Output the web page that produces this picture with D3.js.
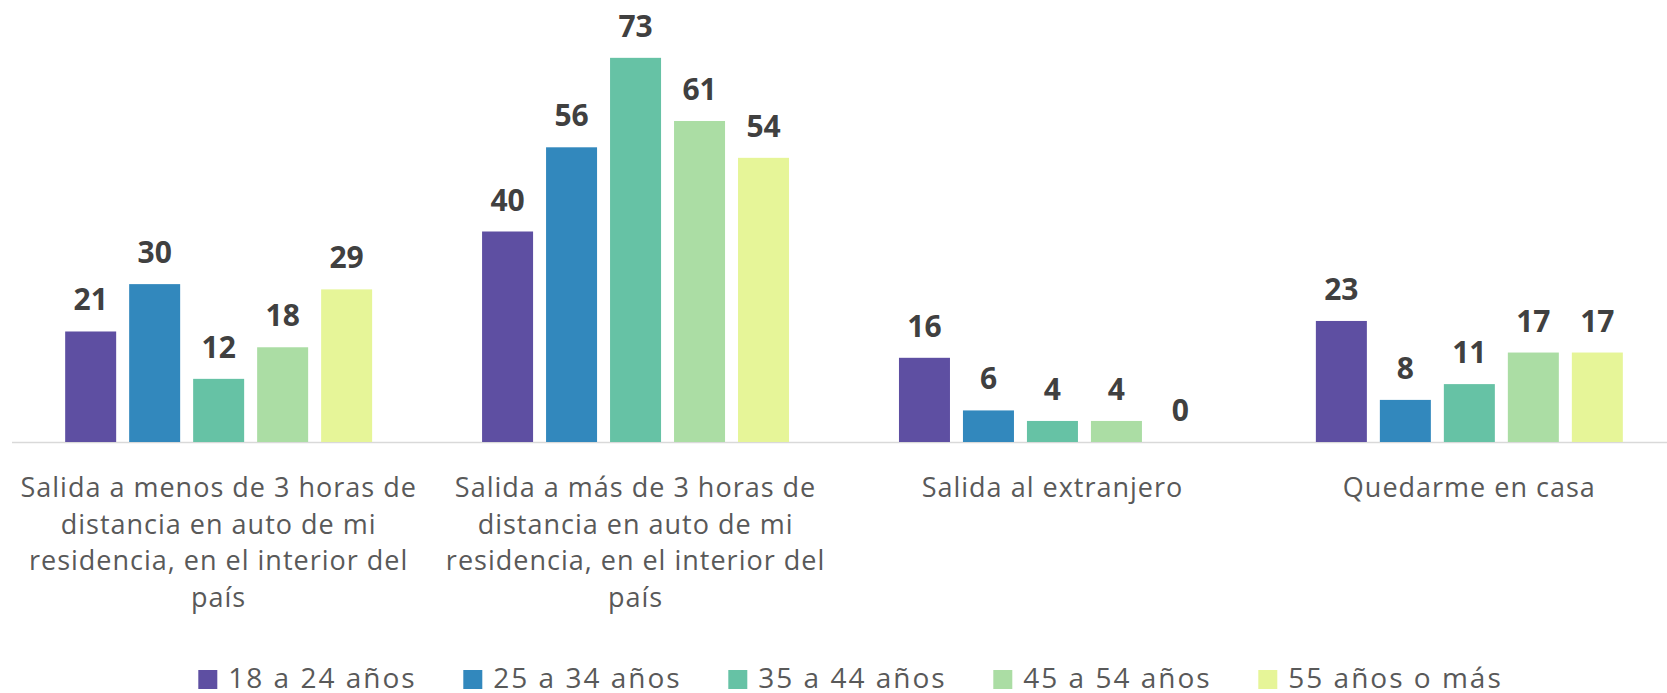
<!DOCTYPE html>
<html>
<head>
<meta charset="utf-8">
<script src="https://cdn.jsdelivr.net/npm/d3@7"></script>
<style>
body { margin: 0; background: #fff; }
text { font-family: "Open Sans", sans-serif; }
</style>
</head>
<body>
<div id="chart"></div>
<script>
var categories = [
    "Salida a menos de 3 horas de distancia en auto de mi residencia, en el interior del país",
    "Salida a más de 3 horas de distancia en auto de mi residencia, en el interior del país",
    "Salida al extranjero",
    "Quedarme en casa"
]
var series = ["18 a 24 años", "25 a 34 años", "35 a 44 años", "45 a 54 años", "55 años o más"]
var colors = ["#5e4fa2", "#3288bd", "#66c2a5", "#abdda4", "#e6f598"]

// one array per age group, in category order
var v18_24 = [21, 40, 16, 23]
var v25_34 = [30, 56, 6, 8]
var v35_44 = [12, 73, 4, 11]
var v45_54 = [18, 61, 4, 17]
var v55 = [29, 54, 0, 17]
var values = [v18_24, v25_34, v35_44, v45_54, v55]

width = 1667
height = 693
baseY = 442

var svg = d3.select("#chart")
    .append("svg")
    .attr("width", width)
    .attr("height", height)

var x0 = d3.scaleBand()
    .domain(d3.range(categories.length))
    .range([10.2, 1677.8])
    .padding(0)

var x1 = d3.scaleBand()
    .domain(d3.range(series.length))
    .range([0, x0.bandwidth()])
    .paddingInner(0.203)
    .paddingOuter(0.859)

var y = d3.scaleLinear()
    .domain([0, 80])
    .range([baseY, 21])

// axis line
svg.append("line")
    .attr("x1", 12)
    .attr("x2", width)
    .attr("y1", baseY + 0.5)
    .attr("y2", baseY + 0.5)
    .attr("stroke", "#d9d9d9")
    .attr("stroke-width", 1.5)

var rows = []
categories.forEach(function(c, ci) {
    series.forEach(function(s, si) {
        rows.push({ci: ci, si: si, value: values[si][ci]})
    })
})

svg.selectAll(".bar").data(rows)
    .enter().append("rect")
    .attr("class", "bar")
    .attr("x", function(d) { return x0(d.ci) + x1(d.si) })
    .attr("width", x1.bandwidth())
    .attr("y", function(d) { return y(d.value) })
    .attr("height", function(d) { return baseY - y(d.value) })
    .attr("fill", function(d) { return colors[d.si] })

svg.selectAll(".val").data(rows)
    .enter().append("text")
    .attr("class", "val")
    .attr("x", function(d) { return x0(d.ci) + x1(d.si) + x1.bandwidth() / 2 })
    .attr("y", function(d) { return y(d.value) - 21 })
    .attr("text-anchor", "middle")
    .style("font-size", "30px")
    .style("font-weight", "bold")
    .style("fill", "#404040")
    .text(function(d) { return d.value })

// category labels, word wrapped
var maxW = 410
svg.selectAll(".cat").data(categories)
    .enter().append("text")
    .attr("class", "cat")
    .attr("text-anchor", "middle")
    .style("font-size", "27px")
    .style("letter-spacing", "1px")
    .style("fill", "#595959")
    .each(function(d, i) {
        var t = d3.select(this)
        var cx = x0(i) + x0.bandwidth() / 2
        var words = d.split(" ")
        var line = []
        var n = 0
        var ts = t.append("tspan").attr("x", cx).attr("y", 497)
        words.forEach(function(w) {
            line.push(w)
            ts.text(line.join(" "))
            if (ts.node().getComputedTextLength() > maxW && line.length > 1) {
                line.pop()
                ts.text(line.join(" "))
                line = [w]
                n = n + 1
                ts = t.append("tspan").attr("x", cx).attr("y", 497 + n * 36.7).text(w)
            }
        })
    })

// legend
var lx = d3.scaleBand()
    .domain(d3.range(series.length))
    .range([198.3, 198.3 + 265 * series.length])

var leg = svg.selectAll(".legend").data(series)
    .enter().append("g")
    .attr("class", "legend")
    .attr("transform", function(d, i) { return "translate(" + lx(i) + ",670)" })

leg.append("rect")
    .attr("width", 19)
    .attr("height", 19)
    .attr("fill", function(d, i) { return colors[i] })

leg.append("text")
    .attr("x", 30)
    .attr("y", 17.5)
    .style("font-size", "28px")
    .style("letter-spacing", "2px")
    .style("fill", "#595959")
    .text(function(d) { return d })
</script>
</body>
</html>
